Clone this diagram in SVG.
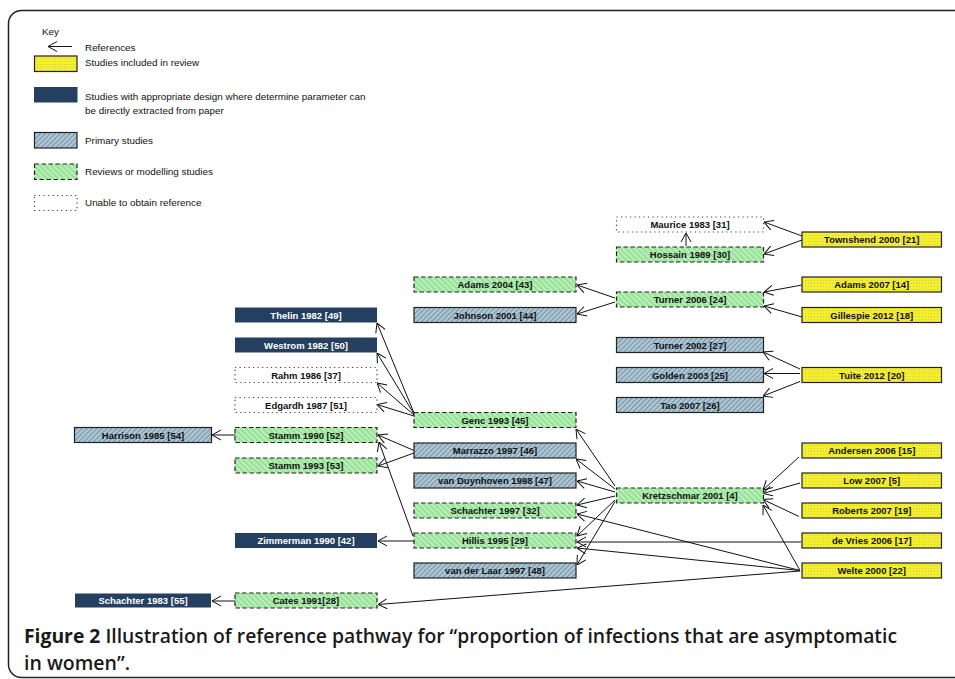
<svg xmlns="http://www.w3.org/2000/svg" width="955" height="679" viewBox="0 0 955 679">
<defs>
<style>
.yel{fill:url(#dots);stroke:#222;stroke-width:1.2}
.blu{fill:#243f60}
.pri{fill:url(#hatchP);stroke:#222;stroke-width:1.2}
.grn{fill:url(#hatchG);stroke:#222;stroke-width:1.2;stroke-dasharray:4.5 2.5}
.dot{fill:#fff;stroke:#444;stroke-width:1.2;stroke-dasharray:1.2 3.3}
.lbl{font-family:"Liberation Sans",Arial,sans-serif;font-size:9.5px;font-weight:bold;text-anchor:middle;fill:#111}
.wl{fill:#fff}
.leg{font-family:"Liberation Sans",Arial,sans-serif;font-size:9.9px;fill:#111}
.con line{stroke:#111;stroke-width:1;fill:none;marker-end:url(#arr)}
.cap{font-family:"Open Sans","Liberation Sans",Arial,sans-serif;font-size:19.5px;font-weight:600;fill:#1a1a1a}
</style>
<marker id="arr" markerUnits="userSpaceOnUse" markerWidth="10" markerHeight="12" viewBox="-1 -1 10 12" refX="9" refY="5" orient="auto">
<path d="M0,0 L9,5 L0,10" fill="none" stroke="#111" stroke-width="1"/>
</marker>
<pattern id="dots" patternUnits="userSpaceOnUse" width="3" height="3">
<rect width="3" height="3" fill="#f3ee2e"/>
<circle cx="1.5" cy="1.5" r="0.55" fill="#cfc94e"/>
</pattern>
<pattern id="hatchP" patternUnits="userSpaceOnUse" width="3.5" height="3.5" patternTransform="rotate(45)">
<rect width="3.5" height="3.5" fill="#adc7d6"/>
<line x1="0.5" y1="0" x2="0.5" y2="3.5" stroke="#7590a1" stroke-width="1"/>
</pattern>
<pattern id="hatchG" patternUnits="userSpaceOnUse" width="4" height="4" patternTransform="rotate(-45)">
<rect width="4" height="4" fill="#96e296"/>
<line x1="0.8" y1="0" x2="0.8" y2="4" stroke="#c8f3c8" stroke-width="1.4"/>
</pattern>
</defs>
<rect width="955" height="679" fill="#fff"/>
<rect x="8.5" y="10.5" width="965" height="667" rx="13" fill="none" stroke="#222" stroke-width="1.5"/>

<g id="key">
<text class="leg" x="42" y="35">Key</text>
<line x1="72" y1="46.5" x2="48" y2="46.5" stroke="#111" stroke-width="1" marker-end="url(#arr)"/>
<text class="leg" x="85" y="50.5">References</text>
<rect class="yel" x="34.5" y="56" width="42.5" height="15.5"/>
<text class="leg" x="85" y="66">Studies included in review</text>
<rect class="blu" x="34" y="87" width="43.5" height="15.5"/>
<text class="leg" x="85" y="99.5">Studies with appropriate design where determine parameter can</text>
<text class="leg" x="85" y="114">be directly extracted from paper</text>
<rect class="pri" x="34.5" y="132.5" width="42.5" height="15.5"/>
<text class="leg" x="85" y="143.5">Primary studies</text>
<rect class="grn" x="34.5" y="164" width="42.5" height="15.5"/>
<text class="leg" x="85" y="174.5">Reviews or modelling studies</text>
<rect class="dot" x="34.5" y="195.5" width="42.5" height="15"/>
<text class="leg" x="85" y="206">Unable to obtain reference</text>
</g>

<g id="connectors" class="con">
<line x1="802" y1="236" x2="764" y2="222"/>
<line x1="802" y1="240" x2="764" y2="254"/>
<line x1="686" y1="246" x2="686" y2="233"/>
<line x1="615" y1="298" x2="577" y2="285"/>
<line x1="615" y1="302" x2="577" y2="314"/>
<line x1="802" y1="285" x2="764" y2="292"/>
<line x1="802" y1="317" x2="764" y2="306"/>
<line x1="800" y1="369" x2="763" y2="352"/>
<line x1="800" y1="373.5" x2="764" y2="373.5"/>
<line x1="800" y1="381.5" x2="763" y2="396"/>
<line x1="414" y1="413" x2="377" y2="323"/>
<line x1="414" y1="414" x2="377" y2="353"/>
<line x1="414" y1="415" x2="377" y2="383"/>
<line x1="414" y1="416" x2="377" y2="404.5"/>
<line x1="414" y1="450.5" x2="378" y2="435"/>
<line x1="414" y1="453" x2="378" y2="466"/>
<line x1="413" y1="536" x2="379" y2="442"/>
<line x1="414" y1="541" x2="378" y2="541"/>
<line x1="235" y1="435" x2="212" y2="435"/>
<line x1="235" y1="601" x2="212" y2="601"/>
<line x1="800" y1="571" x2="378" y2="604.5"/>
<line x1="615" y1="486" x2="576" y2="429"/>
<line x1="615" y1="489" x2="576" y2="459"/>
<line x1="615" y1="492" x2="577" y2="481"/>
<line x1="615" y1="496" x2="577" y2="505"/>
<line x1="615" y1="500" x2="577" y2="536"/>
<line x1="615" y1="501.5" x2="577" y2="565"/>
<line x1="800" y1="570.5" x2="763" y2="505"/>
<line x1="800" y1="570.5" x2="577" y2="514"/>
<line x1="800" y1="570.5" x2="577" y2="548"/>
<line x1="801" y1="542" x2="577" y2="542"/>
<line x1="799" y1="457" x2="763" y2="490"/>
<line x1="800" y1="483" x2="763" y2="493.5"/>
<line x1="799" y1="516.5" x2="763" y2="499.5"/>
</g>

<g id="maurice"><rect class="dot" x="616.5" y="217" width="147" height="15"/><text class="lbl" x="690" y="228">Maurice 1983 [31]</text></g>
<g id="hossain"><rect class="grn" x="616.5" y="247" width="147" height="15"/><text class="lbl" x="690" y="258">Hossain 1989 [30]</text></g>
<g id="townshend"><rect class="yel" x="802" y="232" width="139.5" height="15"/><text class="lbl" x="871.75" y="243">Townshend 2000 [21]</text></g>
<g id="adams2004"><rect class="grn" x="414" y="277" width="162" height="15"/><text class="lbl" x="495" y="288">Adams 2004 [43]</text></g>
<g id="johnson2001"><rect class="pri" x="414" y="307.5" width="162" height="15"/><text class="lbl" x="495" y="318.5">Johnson 2001 [44]</text></g>
<g id="turner2006"><rect class="grn" x="616.5" y="292" width="147" height="15"/><text class="lbl" x="690" y="303">Turner 2006 [24]</text></g>
<g id="adams2007"><rect class="yel" x="802" y="277" width="139.5" height="15"/><text class="lbl" x="871.75" y="288">Adams 2007 [14]</text></g>
<g id="gillespie2012"><rect class="yel" x="802" y="307.5" width="139.5" height="15"/><text class="lbl" x="871.75" y="318.5">Gillespie 2012 [18]</text></g>
<g id="turner2002"><rect class="pri" x="616.5" y="337.5" width="147" height="15"/><text class="lbl" x="690" y="348.5">Turner 2002 [27]</text></g>
<g id="golden2003"><rect class="pri" x="616.5" y="367.5" width="147" height="15"/><text class="lbl" x="690" y="378.5">Golden 2003 [25]</text></g>
<g id="tao2007"><rect class="pri" x="616.5" y="397.5" width="147" height="15"/><text class="lbl" x="690" y="408.5">Tao 2007 [26]</text></g>
<g id="tuite2012"><rect class="yel" x="802" y="367.5" width="139.5" height="15"/><text class="lbl" x="871.75" y="378.5">Tuite 2012 [20]</text></g>
<g id="thelin1982"><rect class="blu" x="235" y="307.5" width="142" height="15"/><text class="lbl wl" x="306" y="318.5">Thelin 1982 [49]</text></g>
<g id="westrom1982"><rect class="blu" x="235" y="337.5" width="142" height="15"/><text class="lbl wl" x="306" y="348.5">Westrom 1982 [50]</text></g>
<g id="rahm1986"><rect class="dot" x="235" y="367.5" width="142" height="15"/><text class="lbl" x="306" y="378.5">Rahm 1986 [37]</text></g>
<g id="edgardh1987"><rect class="dot" x="235" y="397.5" width="142" height="15"/><text class="lbl" x="306" y="408.5">Edgardh 1987 [51]</text></g>
<g id="genc1993"><rect class="grn" x="414" y="412.5" width="162" height="15"/><text class="lbl" x="495" y="423.5">Genc 1993 [45]</text></g>
<g id="harrison1985"><rect class="pri" x="74.5" y="427.5" width="137" height="15"/><text class="lbl" x="143" y="438.5">Harrison 1985 [54]</text></g>
<g id="stamm1990"><rect class="grn" x="235" y="427.5" width="142" height="15"/><text class="lbl" x="306" y="438.5">Stamm 1990 [52]</text></g>
<g id="stamm1993"><rect class="grn" x="235" y="458" width="142" height="15"/><text class="lbl" x="306" y="469">Stamm 1993 [53]</text></g>
<g id="marrazzo1997"><rect class="pri" x="414" y="443" width="162" height="15"/><text class="lbl" x="495" y="454">Marrazzo 1997 [46]</text></g>
<g id="vanduynhoven1998"><rect class="pri" x="414" y="473" width="162" height="15"/><text class="lbl" x="495" y="484">van Duynhoven 1998 [47]</text></g>
<g id="schachter1997"><rect class="grn" x="414" y="503" width="162" height="15"/><text class="lbl" x="495" y="514">Schachter 1997 [32]</text></g>
<g id="hillis1995"><rect class="grn" x="414" y="533" width="162" height="15"/><text class="lbl" x="495" y="544">Hillis 1995 [29]</text></g>
<g id="vanderlaar1997"><rect class="pri" x="414" y="563" width="162" height="15"/><text class="lbl" x="495" y="574">van der Laar 1997 [48]</text></g>
<g id="kretzschmar2001"><rect class="grn" x="616.5" y="488" width="147" height="15"/><text class="lbl" x="690" y="499">Kretzschmar 2001 [4]</text></g>
<g id="andersen2006"><rect class="yel" x="802" y="443" width="139.5" height="15"/><text class="lbl" x="871.75" y="454">Andersen 2006 [15]</text></g>
<g id="low2007"><rect class="yel" x="802" y="473" width="139.5" height="15"/><text class="lbl" x="871.75" y="484">Low 2007 [5]</text></g>
<g id="roberts2007"><rect class="yel" x="802" y="503" width="139.5" height="15"/><text class="lbl" x="871.75" y="514">Roberts 2007 [19]</text></g>
<g id="devries2006"><rect class="yel" x="802" y="533" width="139.5" height="15"/><text class="lbl" x="871.75" y="544">de Vries 2006 [17]</text></g>
<g id="welte2000"><rect class="yel" x="802" y="563" width="139.5" height="15"/><text class="lbl" x="871.75" y="574">Welte 2000 [22]</text></g>
<g id="zimmerman1990"><rect class="blu" x="235" y="533" width="142" height="15"/><text class="lbl wl" x="306" y="544">Zimmerman 1990 [42]</text></g>
<g id="schachter1983"><rect class="blu" x="75" y="593.5" width="136" height="14"/><text class="lbl wl" x="143" y="604">Schachter 1983 [55]</text></g>
<g id="cates1991"><rect class="grn" x="235" y="593" width="142" height="15"/><text class="lbl" x="306" y="604">Cates 1991[28]</text></g>

<g id="caption">
<text class="cap" x="24" y="642.5" textLength="873" lengthAdjust="spacingAndGlyphs"><tspan font-weight="bold">Figure 2</tspan> Illustration of reference pathway for “proportion of infections that are asymptomatic</text>
<text class="cap" x="24" y="669.5">in women”.</text>
</g>
</svg>
